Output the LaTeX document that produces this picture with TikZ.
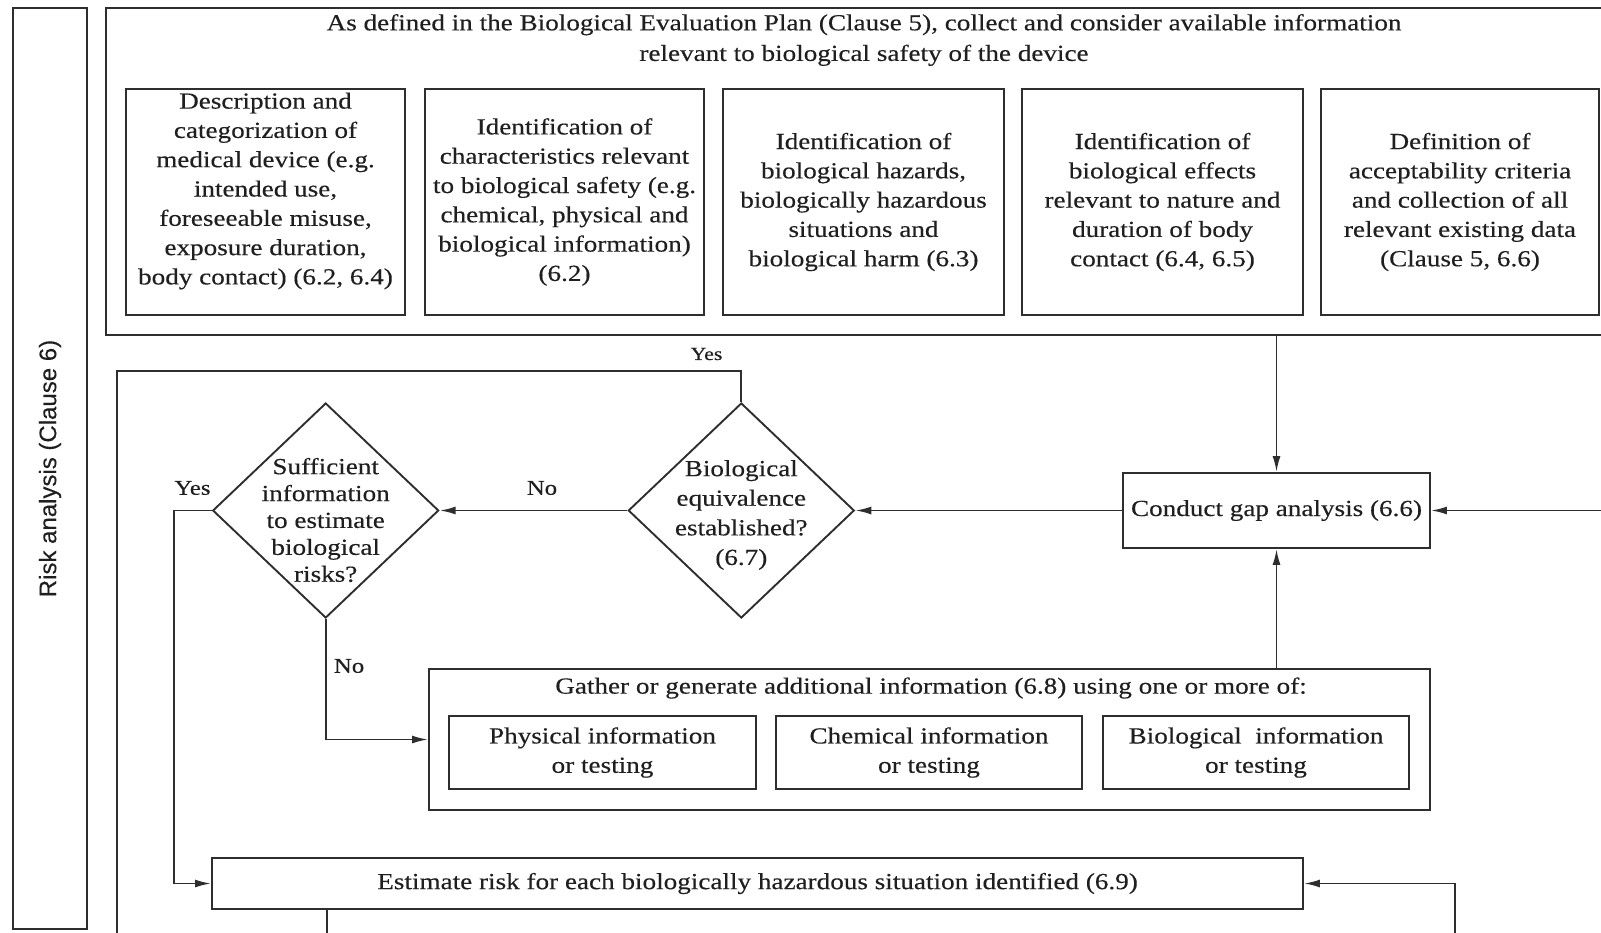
\documentclass[tikz,border=0pt]{standalone}
\usepackage{fontspec}
\setmainfont{Liberation Serif}[FakeStretch=1.18, FakeBold=0.35]
\newfontfamily\sidefont{Liberation Sans}[FakeBold=0.2]
\usetikzlibrary{arrows.meta,shapes.geometric}
\begin{document}
\begin{tikzpicture}[x=1pt,y=-1pt,
  line width=1.9pt, draw=black!82, text=black!88,
  box/.style={draw, rectangle, inner sep=0pt, align=center,
    font=\fontsize{23}{29.3}\selectfont},
  boxtext/.style={inner sep=0pt, align=center, font=\fontsize{23}{29.3}\selectfont},
  decision/.style={draw, diamond, inner sep=0pt,
    minimum width=226pt, minimum height=215pt},
  qtext/.style={align=center, inner sep=0pt, font=\fontsize{23}{26.9}\selectfont},
  flow/.style={-{Latex[length=16pt,width=8pt]}},
  lbl/.style={inner sep=0pt, font=\fontsize{21}{24}\selectfont},
]
\useasboundingbox (0,0) rectangle (1601,932);
\clip (0,0) rectangle (1601,932);

% side bar
\node[draw, minimum width=74pt, minimum height=921pt, inner sep=0pt] (side) at (50,468.5) {};
\node[rotate=90, inner sep=0pt, font=\sidefont\fontsize{24}{28}\selectfont] (sidetext) at (side.center) {Risk analysis (Clause 6)};

% information gathering frame
\node[draw, minimum width=1516pt, minimum height=327pt, inner sep=0pt] (plan) at (864,171.5) {};
\node[align=center, inner sep=0pt, font=\fontsize{23}{30.6}\selectfont] (title) at (864,40)
  {As defined in the Biological Evaluation Plan (Clause 5), collect and consider available information\\
   relevant to biological safety of the device};

\node[box, minimum width=279pt, minimum height=226pt] (b1) at (265.5,202) {};
\node[boxtext] (b1t) at (265.5,191)
  {Description and\\categorization of\\medical device (e.g.\\intended use,\\foreseeable misuse,\\exposure duration,\\body contact) (6.2, 6.4)};
\node[box, minimum width=279pt, minimum height=226pt] (b2) at (564.5,202)
  {Identification of\\characteristics relevant\\to biological safety (e.g.\\chemical, physical and\\biological information)\\(6.2)};
\node[box, minimum width=281pt, minimum height=226pt] (b3) at (863.5,202)
  {Identification of\\biological hazards,\\biologically hazardous\\situations and\\biological harm (6.3)};
\node[box, minimum width=281pt, minimum height=226pt] (b4) at (1162.5,202)
  {Identification of\\biological effects\\relevant to nature and\\duration of body\\contact (6.4, 6.5)};
\node[box, minimum width=278pt, minimum height=226pt] (b5) at (1460,202)
  {Definition of\\acceptability criteria\\and collection of all\\relevant existing data\\(Clause 5, 6.6)};

% gap analysis and decisions
\node[box, minimum width=307pt, minimum height=75pt] (gap) at (1276.5,510.5) {Conduct gap analysis (6.6)};
\node[decision] (d2) at (741.3,510.5) {};
\node[qtext, font=\fontsize{23}{29.6}\selectfont] (d2t) at (741.3,515) {Biological\\equivalence\\established?\\(6.7)};
\node[decision] (d1) at (325.7,510.5) {};
\node[qtext] (d1t) at (325.7,520) {Sufficient\\information\\to estimate\\biological\\risks?};

% additional information
\node[draw, minimum width=1001pt, minimum height=141pt, inner sep=0pt] (gather) at (929.5,739.5) {};
\node[inner sep=0pt, font=\fontsize{23}{26}\selectfont] (gtitle) at (931,688)
  {Gather or generate additional information (6.8) using one or more of:};
\node[box, minimum width=307pt, minimum height=73pt] (phys) at (602.5,752.5) {Physical information\\or testing};
\node[box, minimum width=306pt, minimum height=73pt] (chem) at (929,752.5) {Chemical information\\or testing};
\node[box, minimum width=306pt, minimum height=73pt] (bio) at (1256,752.5) {Biological\ \ information\\or testing};

% risk estimation
\node[box, minimum width=1091pt, minimum height=51pt] (est) at (757.5,883.5)
  {Estimate risk for each biologically hazardous situation identified (6.9)};

% free ends leaving the page
\coordinate (rin) at (1615,510.5);
\coordinate (loopA) at (117.4,370.6);
\coordinate (loopB) at (117.4,945);
\coordinate (yesA) at (173.6,510.5);
\coordinate (estout) at (327,945);
\coordinate (backin) at (1455,945);

% connectors
\draw[flow] (plan.south -| gap.north) -- (gap.north);
\draw[flow] (rin) -- (gap.east);
\draw[flow] (gap.west) -- (d2.east);
\draw[flow] (d2.west) -- (d1.east);
\node[lbl] (no1) at (542,488) {No};
\draw (d2.north) |- (loopA) -- (loopB);
\node[lbl, font=\fontsize{18.5}{22}\selectfont] (yes1) at (706.5,354) {Yes};
\draw[flow] (d1.west) -- (yesA) |- (est.west);
\node[lbl] (yes2) at (192.5,488) {Yes};
\draw[flow] (d1.south) |- (gather.west);
\node[lbl, anchor=west] (no2) at (333,666) {No};
\draw[flow] (gather.north -| gap.south) -- (gap.south);
\draw (est.south -| estout) -- (estout);
\draw[flow] (backin) |- (est.east);
\end{tikzpicture}
\end{document}
